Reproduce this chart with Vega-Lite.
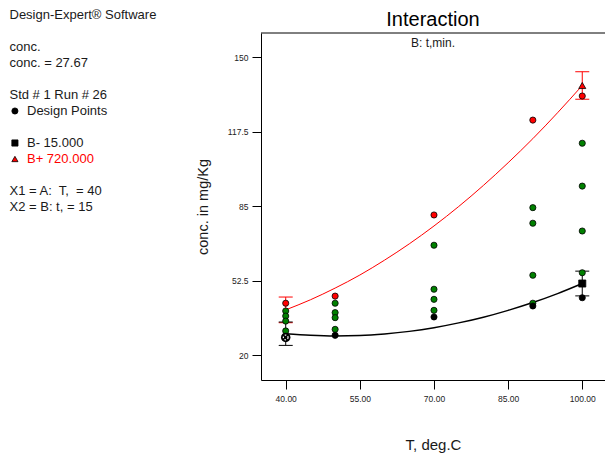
{
  "$schema": "https://vega.github.io/schema/vega-lite/v6.json",
  "padding": {"left": 5, "top": 9, "right": 0, "bottom": 0},
  "autosize": {"type": "pad"},
  "background": "white",
  "bounds": "flush",
  "spacing": 76,
  "resolve": {"scale": {"fill": "independent", "shape": "independent", "color": "independent", "strokeWidth": "independent"}},
  "config": {
    "font": "Liberation Sans",
    "view": {"stroke": null}
  },
  "datasets": {
    "info": [
      {"row": 0, "indent": 0, "label": "Design-Expert® Software", "kind": "std"},
      {"row": 2, "indent": 0, "label": "conc.", "kind": "std"},
      {"row": 3, "indent": 0, "label": "conc. = 27.67", "kind": "std"},
      {"row": 5, "indent": 0, "label": "Std # 1 Run # 26", "kind": "std"},
      {"row": 6, "indent": 1, "label": "Design Points", "kind": "std", "sym": "circle"},
      {"row": 8, "indent": 1, "label": "B- 15.000", "kind": "std", "sym": "square"},
      {"row": 9, "indent": 1, "label": "B+ 720.000", "kind": "plus", "sym": "triangle-up"},
      {"row": 11, "indent": 0, "label": "X1 = A:\u00a0 T,\u00a0 = 40", "kind": "std"},
      {"row": 12, "indent": 0, "label": "X2 = B: t, = 15", "kind": "std"}
    ],
    "curves": [
      {"T": 40, "conc": 39.7, "series": "B+"},
      {"T": 45, "conc": 44.1, "series": "B+"},
      {"T": 50, "conc": 49.2, "series": "B+"},
      {"T": 55, "conc": 54.9, "series": "B+"},
      {"T": 60, "conc": 61.4, "series": "B+"},
      {"T": 65, "conc": 68.5, "series": "B+"},
      {"T": 70, "conc": 76.3, "series": "B+"},
      {"T": 75, "conc": 84.8, "series": "B+"},
      {"T": 80, "conc": 94.0, "series": "B+"},
      {"T": 85, "conc": 103.9, "series": "B+"},
      {"T": 90, "conc": 114.4, "series": "B+"},
      {"T": 95, "conc": 125.7, "series": "B+"},
      {"T": 100, "conc": 137.6, "series": "B+"},
      {"T": 40, "conc": 29.3, "series": "B-"},
      {"T": 45, "conc": 28.6, "series": "B-"},
      {"T": 50, "conc": 28.3, "series": "B-"},
      {"T": 55, "conc": 28.5, "series": "B-"},
      {"T": 60, "conc": 29.2, "series": "B-"},
      {"T": 65, "conc": 30.3, "series": "B-"},
      {"T": 70, "conc": 31.9, "series": "B-"},
      {"T": 75, "conc": 34.0, "series": "B-"},
      {"T": 80, "conc": 36.5, "series": "B-"},
      {"T": 85, "conc": 39.5, "series": "B-"},
      {"T": 90, "conc": 42.9, "series": "B-"},
      {"T": 95, "conc": 46.8, "series": "B-"},
      {"T": 100, "conc": 51.2, "series": "B-"}
    ],
    "bars": [
      {"T": 40, "lo": 34.1, "hi": 45.3, "series": "B+"},
      {"T": 100, "lo": 131.6, "hi": 143.6, "series": "B+"},
      {"T": 40, "lo": 24.2, "hi": 34.4, "series": "B-"},
      {"T": 100, "lo": 45.8, "hi": 56.6, "series": "B-"}
    ],
    "pts": [
      {"T": 40, "conc": 42.6, "kind": "red"},
      {"T": 40, "conc": 39.2, "kind": "green"},
      {"T": 40, "conc": 37.0, "kind": "green"},
      {"T": 40, "conc": 34.8, "kind": "green"},
      {"T": 40, "conc": 30.5, "kind": "green"},
      {"T": 50, "conc": 45.7, "kind": "red"},
      {"T": 50, "conc": 42.6, "kind": "green"},
      {"T": 50, "conc": 38.5, "kind": "green"},
      {"T": 50, "conc": 36.3, "kind": "green"},
      {"T": 50, "conc": 31.2, "kind": "green"},
      {"T": 50, "conc": 28.6, "kind": "black"},
      {"T": 70, "conc": 81.1, "kind": "red"},
      {"T": 70, "conc": 67.9, "kind": "green"},
      {"T": 70, "conc": 48.7, "kind": "green"},
      {"T": 70, "conc": 44.3, "kind": "green"},
      {"T": 70, "conc": 39.5, "kind": "green"},
      {"T": 70, "conc": 36.6, "kind": "black"},
      {"T": 90, "conc": 122.5, "kind": "red"},
      {"T": 90, "conc": 84.3, "kind": "green"},
      {"T": 90, "conc": 77.5, "kind": "green"},
      {"T": 90, "conc": 54.8, "kind": "green"},
      {"T": 90, "conc": 42.6, "kind": "green"},
      {"T": 90, "conc": 41.4, "kind": "black"},
      {"T": 100, "conc": 133.0, "kind": "red"},
      {"T": 100, "conc": 112.4, "kind": "green"},
      {"T": 100, "conc": 93.7, "kind": "green"},
      {"T": 100, "conc": 74.1, "kind": "green"},
      {"T": 100, "conc": 55.9, "kind": "green"},
      {"T": 100, "conc": 45.0, "kind": "black"}
    ],
    "ends": [
      {"T": 100, "conc": 137.6, "series": "B+", "kind": "red"},
      {"T": 100, "conc": 51.2, "series": "B-", "kind": "black"}
    ],
    "cur": [
      {"T": 40, "conc": 27.67}
    ]
  },
  "hconcat": [
    {
      "width": 180,
      "height": 224,
      "data": {"name": "info"},
      "layer": [
        {
          "mark": {"type": "text", "align": "left", "baseline": "middle", "fontSize": 13, "font": "Liberation Sans"},
          "encoding": {
            "x": {"field": "indent", "type": "quantitative", "scale": {"domain": [-0.2571, 10.0286], "nice": false, "zero": false}, "axis": null},
            "y": {"field": "row", "type": "quantitative", "scale": {"domain": [1.125, 15.125], "reverse": true, "nice": false, "zero": false}, "axis": null},
            "text": {"field": "label"},
            "color": {"field": "kind", "type": "nominal", "scale": {"domain": ["std", "plus"], "range": ["#1a1a1a", "#ff0000"]}, "legend": null}
          }
        },
        {
          "transform": [{"filter": "datum.sym != null"}],
          "mark": {"type": "point", "filled": true, "stroke": "black", "strokeWidth": 0.8, "size": 38, "opacity": 1},
          "encoding": {
            "x": {"datum": 0.31, "type": "quantitative", "axis": null},
            "y": {"field": "row", "type": "quantitative", "axis": null},
            "shape": {"field": "sym", "type": "nominal", "scale": {"domain": ["circle", "square", "triangle-up"], "range": ["circle", "square", "triangle-up"]}, "legend": null},
            "fill": {"field": "kind", "type": "nominal", "scale": {"domain": ["std", "plus"], "range": ["#000000", "#ff0000"]}, "legend": null}
          }
        }
      ]
    },
    {
      "width": 344,
      "height": 347,
      "title": {
        "text": "Interaction",
        "subtitle": "B: t,min.",
        "anchor": "middle",
        "frame": "group",
        "fontSize": 20,
        "fontWeight": "normal",
        "font": "Liberation Sans",
        "color": "#000000",
        "subtitleFont": "Liberation Sans",
        "subtitleFontSize": 12,
        "subtitleColor": "#1a1a1a",
        "subtitlePadding": 7.5,
        "offset": -16
      },
      "layer": [
        {
          "data": {"name": "curves"},
          "mark": {"type": "line", "interpolate": "monotone"},
          "encoding": {
            "x": {
              "field": "T", "type": "quantitative",
              "scale": {"domain": [35, 104.6], "nice": false, "zero": false},
              "axis": {
                "title": "T, deg.C", "titleFontSize": 15, "titleFontWeight": "normal", "titleColor": "#1a1a1a", "titlePadding": 35,
                "values": [40, 55, 70, 85, 100], "format": ".2f",
                "labelFontSize": 8.5, "labelColor": "#222222", "labelPadding": 5,
                "tickSize": 9, "tickColor": "#000000", "domainColor": "#000000", "grid": false
              }
            },
            "y": {
              "field": "conc", "type": "quantitative",
              "scale": {"domain": [9.1, 160.5], "nice": false, "zero": false},
              "axis": {
                "title": "conc. in mg/Kg", "titleFontSize": 14.5, "titleFontWeight": "normal", "titleColor": "#1a1a1a", "titlePadding": 17,
                "values": [20, 52.5, 85, 117.5, 150], "format": ".6~r",
                "labelFontSize": 8.5, "labelColor": "#222222", "labelPadding": 4,
                "tickSize": 9, "tickColor": "#000000", "domainColor": "#000000", "grid": false
              }
            },
            "color": {"field": "series", "type": "nominal", "scale": {"domain": ["B-", "B+"], "range": ["#000000", "#ff0000"]}, "legend": null},
            "strokeWidth": {"field": "series", "type": "nominal", "scale": {"domain": ["B-", "B+"], "range": [1.4, 1]}, "legend": null}
          }
        },
        {
          "data": {"values": [{}]},
          "mark": {"type": "rule", "color": "#000000", "strokeWidth": 1},
          "encoding": {
            "y": {"datum": 160.5, "type": "quantitative"}
          }
        },
        {
          "data": {"name": "bars"},
          "mark": {"type": "rule", "strokeWidth": 1},
          "encoding": {
            "x": {"field": "T", "type": "quantitative"},
            "y": {"field": "lo", "type": "quantitative"},
            "y2": {"field": "hi"},
            "color": {"field": "series", "type": "nominal", "legend": null}
          }
        },
        {
          "data": {"name": "bars"},
          "mark": {"type": "tick", "orient": "horizontal", "size": 14, "thickness": 1, "opacity": 1},
          "encoding": {
            "x": {"field": "T", "type": "quantitative"},
            "y": {"field": "lo", "type": "quantitative"},
            "color": {"field": "series", "type": "nominal", "legend": null}
          }
        },
        {
          "data": {"name": "bars"},
          "mark": {"type": "tick", "orient": "horizontal", "size": 14, "thickness": 1, "opacity": 1},
          "encoding": {
            "x": {"field": "T", "type": "quantitative"},
            "y": {"field": "hi", "type": "quantitative"},
            "color": {"field": "series", "type": "nominal", "legend": null}
          }
        },
        {
          "data": {"name": "pts"},
          "mark": {"type": "point", "shape": "circle", "filled": true, "size": 38, "stroke": "#000000", "strokeWidth": 0.8, "opacity": 1},
          "encoding": {
            "x": {"field": "T", "type": "quantitative"},
            "y": {"field": "conc", "type": "quantitative"},
            "fill": {"field": "kind", "type": "nominal", "scale": {"domain": ["green", "red", "black"], "range": ["#008000", "#ff0000", "#000000"]}, "legend": null}
          }
        },
        {
          "data": {"name": "ends"},
          "mark": {"type": "point", "filled": true, "size": 50, "stroke": "#000000", "strokeWidth": 0.8, "opacity": 1},
          "encoding": {
            "x": {"field": "T", "type": "quantitative"},
            "y": {"field": "conc", "type": "quantitative"},
            "fill": {"field": "kind", "type": "nominal", "legend": null},
            "shape": {"field": "series", "type": "nominal", "scale": {"domain": ["B-", "B+"], "range": ["square", "triangle-up"]}, "legend": null}
          }
        },
        {
          "data": {"name": "cur"},
          "mark": {"type": "point", "shape": "circle", "filled": true, "size": 90, "color": "#000000", "opacity": 1},
          "encoding": {
            "x": {"field": "T", "type": "quantitative"},
            "y": {"field": "conc", "type": "quantitative"}
          }
        },
        {
          "data": {"name": "cur"},
          "mark": {"type": "point", "shape": "circle", "filled": false, "size": 22, "stroke": "#ffffff", "strokeWidth": 1.2, "strokeDash": [1.5, 1.5], "opacity": 1},
          "encoding": {
            "x": {"field": "T", "type": "quantitative"},
            "y": {"field": "conc", "type": "quantitative"}
          }
        }
      ]
    }
  ]
}
